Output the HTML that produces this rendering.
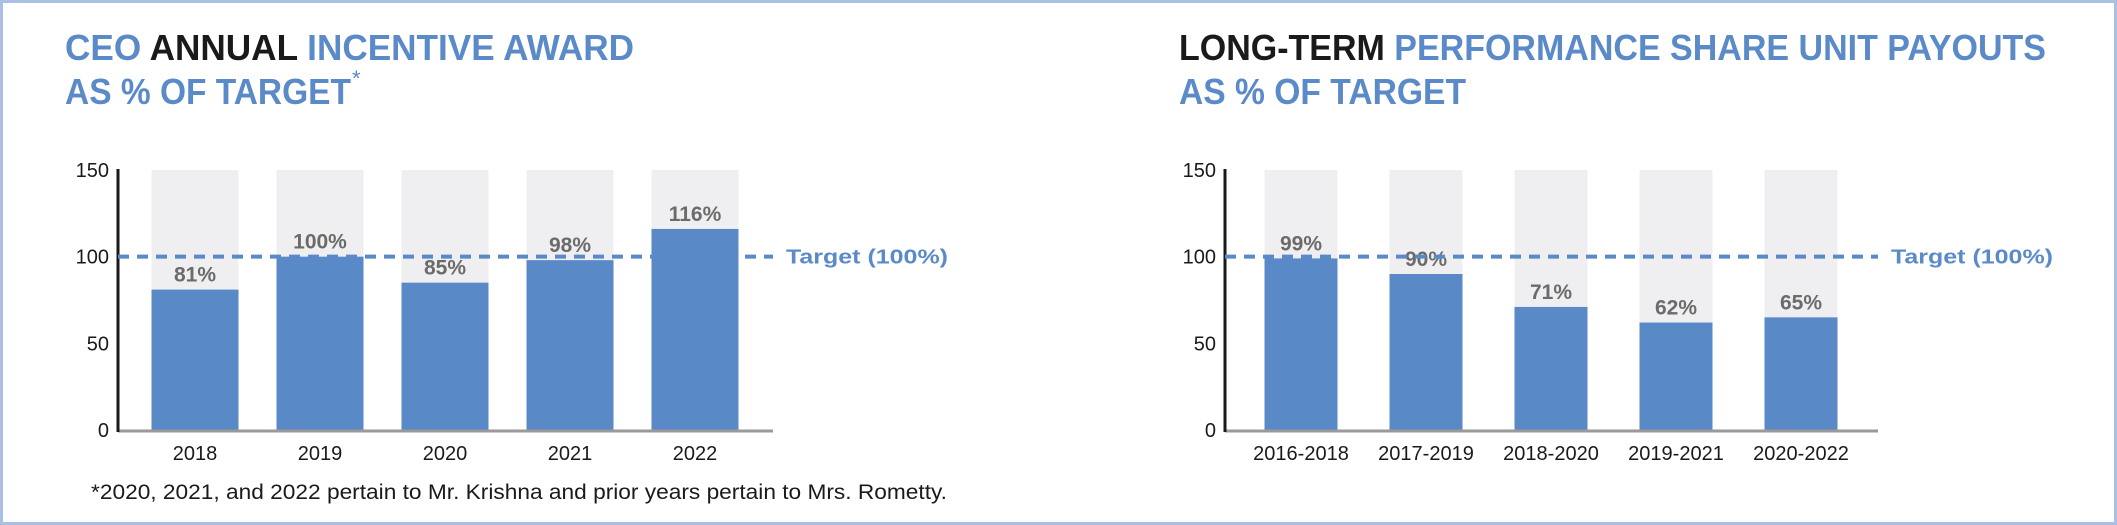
<!DOCTYPE html>
<html><head><meta charset="utf-8"><style>
html,body{margin:0;padding:0;background:#fff}
svg{display:block}
text{font-family:"Liberation Sans",sans-serif}
</style></head><body>
<svg id="s" width="2117" height="525" viewBox="0 0 2117 525" xmlns="http://www.w3.org/2000/svg">
<rect x="1.5" y="1.5" width="2114" height="522" fill="#fff" stroke="#a9c0e4" stroke-width="3"/>
<text x="65" y="60" font-size="36" font-weight="bold" fill="#5b8ac9" textLength="569" lengthAdjust="spacingAndGlyphs">CEO <tspan fill="#1a1a1a">ANNUAL</tspan> INCENTIVE AWARD</text>
<text x="65" y="104" font-size="36" font-weight="bold" fill="#5b8ac9" textLength="286" lengthAdjust="spacingAndGlyphs">AS % OF TARGET</text>
<text x="352" y="86" font-size="22" fill="#5b8ac9">*</text>
<text x="1179" y="60" font-size="36" font-weight="bold" fill="#5b8ac9" textLength="867" lengthAdjust="spacingAndGlyphs"><tspan fill="#1a1a1a">LONG-TERM</tspan> PERFORMANCE SHARE UNIT PAYOUTS</text>
<text x="1179" y="104" font-size="36" font-weight="bold" fill="#5b8ac9" textLength="287" lengthAdjust="spacingAndGlyphs">AS % OF TARGET</text>
<text x="91" y="499" font-size="21" fill="#1a1a1a" textLength="856" lengthAdjust="spacingAndGlyphs">*2020, 2021, and 2022 pertain to Mr. Krishna and prior years pertain to Mrs. Rometty.</text>
<g id="c1"></g><g id="c2"></g>
</svg>
<script>
const leftCategories = ["2018","2019","2020","2021","2022"];
const leftValues = [81,100,85,98,116];
const rightCategories = ["2016-2018","2017-2019","2018-2020","2019-2021","2020-2022"];
const rightValues = [99,90,71,62,65];
const yTicks = [0,50,100,150];
const targetValue = 100;
const NS="http://www.w3.org/2000/svg";
function mk(p,tag,attrs){const e=document.createElementNS(NS,tag);for(const k in attrs)e.setAttribute(k,attrs[k]);p.appendChild(e);return e;}
function draw(g,cats,vals,o){
  const y0=430,yTop=170,max=150;
  const y=v=>y0-(v/max)*(y0-yTop);
  const x=i=>o.first+i*125;
  cats.forEach((c,i)=>{
    const bg=mk(g,'rect',{x:x(i)-o.bw/2,y:y(max),width:o.bw,height:y0-y(max),fill:'#efeff1'});
    
    
    const b=mk(g,'rect',{x:x(i)-o.bw/2,y:y(vals[i]),width:o.bw,height:y0-y(vals[i]),fill:'#5a89c8'});
    
    
    const vl=mk(g,'text',{x:x(i),y:y(vals[i])-8,'font-size':21,'font-weight':'bold',fill:'#6b6b6b','text-anchor':'middle'});
    vl.textContent=vals[i]+'%';
    
    
    const xl=mk(g,'text',{x:x(i),y:460,'font-size':20,fill:'#1a1a1a','text-anchor':'middle'});
    xl.textContent=c;
    
    
  });
  yTicks.forEach(t=>{
    const tl=mk(g,'text',{x:o.ax-9,y:y(t)+7,'font-size':20,fill:'#1a1a1a','text-anchor':'end'});
    tl.textContent=t;
    
    
  });
  const xa=mk(g,'line',{x1:o.ax,y1:y0+1,x2:o.axEnd,y2:y0+1,stroke:'#9a9a9a','stroke-width':3});
  
  
  const ya=mk(g,'line',{x1:o.ax,y1:yTop-1,x2:o.ax,y2:y0+2,stroke:'#1a1a1a','stroke-width':3});
  
  
  const tg=mk(g,'line',{x1:o.ax,y1:y(targetValue),x2:o.axEnd,y2:y(targetValue),stroke:'#5a89c8','stroke-width':4,'stroke-dasharray':'11 8'});
  
  
  const tt=mk(g,'text',{x:o.axEnd+13,y:y(targetValue)+7,'font-size':20,'font-weight':'bold',fill:'#5b8ac9',textLength:o.tw,lengthAdjust:'spacingAndGlyphs'});
  tt.textContent='Target (100%)';
  
  
}
draw(document.getElementById('c1'),leftCategories,leftValues,{first:195,bw:87,ax:118,axEnd:773,tw:162});
draw(document.getElementById('c2'),rightCategories,rightValues,{first:1301,bw:73,ax:1225,axEnd:1878,tw:162});
</script>
</body></html>
